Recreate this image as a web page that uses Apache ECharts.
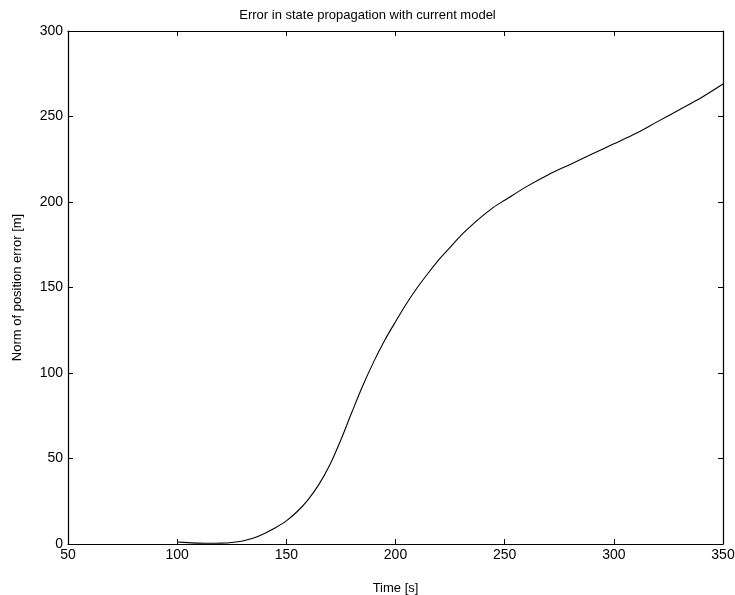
<!DOCTYPE html>
<html>
<head>
<meta charset="utf-8">
<script src="https://cdn.jsdelivr.net/npm/echarts@6/dist/echarts.min.js"></script>
<style>
    html, body { margin: 0; padding: 0; background: #fff; }
    #chart { width: 735px; height: 595px; }
</style>
</head>
<body>
<div id="chart"></div>
<script>
// time [s] and norm of position error [m]
const times = [100, 105, 110, 115, 120, 125, 130, 135, 140, 145, 150, 155, 160, 165, 170, 175, 180, 185, 190, 195,
    200, 205, 210, 215, 220, 225, 230, 235, 240, 245, 250, 260, 270, 280, 290, 300, 310, 320, 330, 340, 350];
const errors = [1.2, 0.8, 0.5, 0.4, 0.5, 0.9, 1.8, 3.5, 6.2, 9.5, 13.5, 19, 26, 35, 46.5, 61, 77, 92.5, 106.5, 119,
    130, 140.5, 150, 158.5, 166.5, 173.5, 180.5, 186.5, 192, 197, 201, 209, 216, 222, 228, 234, 240, 247, 254, 261, 269];
const xTicks = [50, 100, 150, 200, 250, 300, 350];
const yTicks = [0, 50, 100, 150, 200, 250, 300];

const font = "Liberation Sans, Arial, Helvetica, sans-serif";
const points = times.map((t, i) => [t, errors[i]]);

const myChart = echarts.init(document.getElementById("chart"));

// shared look of the box axes (matlab style, ticks pointing inwards)
function boxAxis(extra) {
    return Object.assign({
        type: "value",
        axisLine: { show: true, onZero: false, lineStyle: { color: "#000", width: 1.2 } },
        axisTick: { show: true, inside: true, length: 5, lineStyle: { color: "#000" } },
        splitLine: { show: false },
        axisLabel: { color: "#000", fontFamily: font, fontSize: 14 },
    }, extra);
}

const option = {
    animation: false,
    backgroundColor: "#fff",
    title: {
        text: "Error in state propagation with current model",
        left: "center",
        top: 4,
        textStyle: { fontFamily: font, fontSize: 13, fontWeight: "normal", color: "#000" },
    },
    grid: { left: 68, right: 12, top: 31, bottom: 51, outerBoundsMode: "none", containLabel: false },
    xAxis: [
        boxAxis({
            min: xTicks[0], max: xTicks[xTicks.length - 1], interval: 50,
            name: "Time [s]", nameLocation: "middle", nameGap: 38,
            nameTextStyle: { fontFamily: font, fontSize: 13, color: "#000" },
            axisLabel: { color: "#000", fontFamily: font, fontSize: 14, margin: 4 },
        }),
        boxAxis({
            position: "top",
            min: xTicks[0], max: xTicks[xTicks.length - 1], interval: 50,
            axisLabel: { show: false },
        }),
    ],
    yAxis: [
        boxAxis({
            min: yTicks[0], max: yTicks[yTicks.length - 1], interval: 50,
            name: "Norm of position error [m]", nameLocation: "middle", nameGap: 44,
            nameTextStyle: { fontFamily: font, fontSize: 13, color: "#000" },
            axisLabel: { color: "#000", fontFamily: font, fontSize: 14, margin: 5 },
        }),
        boxAxis({
            position: "right",
            min: yTicks[0], max: yTicks[yTicks.length - 1], interval: 50,
            axisLabel: { show: false },
        }),
    ],
    series: [
        {
            type: "line",
            data: points,
            showSymbol: false,
            smooth: 0.3,
            lineStyle: { color: "#000", width: 1.1 },
        },
    ],
};
option && myChart.setOption(option);
</script>
</body>
</html>
